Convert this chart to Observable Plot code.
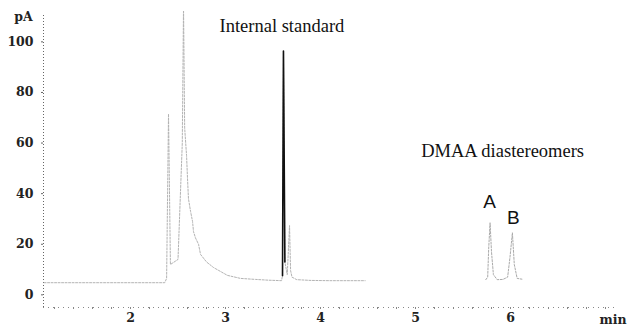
<!DOCTYPE html>
<html>
<head>
<meta charset="utf-8">
<script src="https://cdn.jsdelivr.net/npm/d3@7"></script>
<script src="https://cdn.jsdelivr.net/npm/@observablehq/plot@0.6"></script>
<style>
  html, body { margin: 0; padding: 0; background: #fff; }
</style>
</head>
<body>
<div id="chart"></div>
<script>
// Retention time (min) and detector signal (pA)
const traceTime = [1.09, 1.6, 2.0, 2.36, 2.38, 2.40, 2.42, 2.50, 2.545, 2.558, 2.57, 2.59, 2.60, 2.61,
  2.632, 2.653, 2.663, 2.684, 2.716, 2.737, 2.80, 2.874, 3.02, 3.158, 3.316, 3.45, 3.59,
  3.60, 3.61, 3.625, 3.65, 3.674, 3.685, 3.70, 3.75, 3.9, 4.1, 4.47];
const traceSignal = [4.8, 4.8, 4.8, 4.8, 6.5, 71.5, 12, 14, 60, 114, 66, 55, 46, 38,
  33, 29, 25, 22.5, 20, 16, 13, 10.8, 7.7, 6.5, 6.1, 5.8, 5.6,
  7.6, 96.4, 13, 8, 27.4, 9.6, 7, 6, 5.7, 5.6, 5.6];
const dmaaTime = [5.74, 5.76, 5.77, 5.785, 5.80, 5.82, 5.86, 5.92, 5.97, 5.995, 6.02, 6.04, 6.07, 6.12];
const dmaaSignal = [6.0, 7, 18, 28.5, 17, 8, 6, 6.1, 7, 15, 24.5, 12, 6.5, 6.2];

const yTicks = [0, 20, 40, 60, 80, 100];
const xTicks = [2, 3, 4, 5, 6];
const xMinorTicks = d3.range(12, 71, 2).map(d => d / 10);

const labelText = ["Internal standard", "DMAA diastereomers"];
const labelTime = [2.937, 5.06];
const labelSignal = [103.7, 54.3];
const peakText = ["A", "B"];
const peakTime = [5.779, 6.03];
const peakSignal = [34.5, 28.2];

const trace = traceTime.map((t, i) => ({t, v: traceSignal[i]}));
const dmaa = dmaaTime.map((t, i) => ({t, v: dmaaSignal[i]}));
const labels = labelText.map((s, i) => ({s, t: labelTime[i], v: labelSignal[i]}));
const peaks = peakText.map((s, i) => ({s, t: peakTime[i], v: peakSignal[i]}));

const xDomain = [1.084, 7.158];
const yDomain = [-5, 112];
const serif = "'Liberation Serif', 'Times New Roman', serif";
const tickFont = "'DejaVu Serif', serif";
const sans = "'Liberation Sans', Arial, sans-serif";

const chart = Plot.plot({
  width: 628,
  height: 326,
  marginLeft: 43,
  marginRight: 8,
  marginTop: 11,
  marginBottom: 19,
  style: {background: "#fff", fontFamily: serif},
  x: {domain: xDomain, label: null},
  y: {domain: yDomain, label: null},
  marks: [
    Plot.ruleX([xDomain[0]], {y1: -5, y2: 110.5, stroke: "#666", strokeDasharray: "1,2"}),
    Plot.ruleY([-5], {x1: xDomain[0], x2: 7.1, stroke: "#888", strokeDasharray: "1,4"}),
    Plot.axisY({ticks: yTicks, tickSize: 2, tickPadding: 8, fontSize: 12.5, fontWeight: "bold", fontFamily: tickFont, stroke: "#666", fill: "#222", label: null}),
    Plot.axisX({ticks: xMinorTicks, tickSize: 2, text: null, stroke: "#888", label: null}),
    Plot.axisX({ticks: xTicks, tickSize: 0, tickPadding: 6, tickFormat: d3.format("d"), fontSize: 12.5, fontWeight: "bold", fontFamily: tickFont, fill: "#222", label: null}),
    Plot.text(["min"], {x: 7.08, y: -5, dy: 12, fontSize: 12.5, fontWeight: "bold", fill: "#222", fontFamily: tickFont}),
    Plot.text(["pA"], {x: xDomain[0], y: 110.5, dx: -20, dy: 2, fontSize: 12.5, fontWeight: "bold", fill: "#222", fontFamily: tickFont}),
    Plot.line(trace, {x: "t", y: "v", stroke: "#b3b3b3", strokeWidth: 1, strokeDasharray: "2,1.5", clip: true}),
    Plot.line(trace.filter(d => d.t >= 3.60 && d.t <= 3.625), {x: "t", y: "v", stroke: "#111", strokeWidth: 1.6}),
    Plot.line(dmaa, {x: "t", y: "v", stroke: "#aaa", strokeWidth: 1, strokeDasharray: "2,1.5"}),
    Plot.text(labels, {x: "t", y: "v", text: "s", textAnchor: "start", lineAnchor: "bottom", fontSize: 18.5, fontFamily: serif, fill: "#111"}),
    Plot.text(peaks, {x: "t", y: "v", text: "s", lineAnchor: "bottom", fontSize: 19, fontFamily: sans, fill: "#111"})
  ]
});
document.getElementById("chart").appendChild(chart);
</script>
</body>
</html>
